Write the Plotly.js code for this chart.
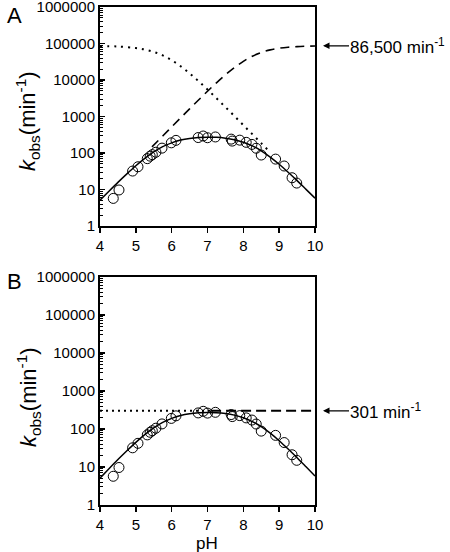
<!DOCTYPE html>
<html>
<head>
<meta charset="utf-8">
<script src="https://cdn.plot.ly/plotly-3.0.1.min.js"></script>
<style>html,body{margin:0;padding:0;background:#fff;}#chart{width:450px;height:552px;}</style>
</head>
<body>
<div id="chart"></div>
<script>
// Measured data (pH, kobs in min^-1)
var dataPH = [4.37,4.53,4.91,5.06,5.32,5.40,5.46,5.56,5.73,5.99,6.12,6.74,6.88,7.00,7.22,7.66,7.69,7.90,8.08,8.24,8.36,8.50,8.90,9.14,9.36,9.49];
var dataK  = [5.7,9.7,32,42,70,82,90,105,136,190,222,265,292,262,275,240,212,225,196,172,135,88,68,44,21,15];

// Fitted bell curve
var fitPH = [4,4.25,4.5,4.75,5,5.25,5.5,5.75,6,6.25,6.5,6.75,7,7.25,7.5,7.75,8,8.25,8.5,8.75,9,9.25,9.5,9.75,10];
var fitK  = [5.1,9.0,15.7,26.8,44.6,71,107,149,190,226,251,266,271,268,255,232,198,157,115,77.5,49.1,29.7,17.5,10.1,5.8];

// Panel A limbs
var dashPH = [5.45,5.75,6,6.25,6.5,6.75,7,7.25,7.5,7.75,8,8.25,8.5,8.75,9,9.25,9.5,9.75,10];
var dashK  = [147,292,518,917,1617,2835,4915,8371,13844,21893,32519,44749,56721,66795,74185,79118,82185,84021,85088];
var dotPH  = [4,4.5,5,5.25,5.5,5.75,6,6.25,6.5,6.75,7,7.25,7.5,7.75,8,8.25,8.5,8.7];
var dotK   = [85239,82633,75348,68487,58924,47216,34893,23829,15237,9283,5478,3168,1811,1028,581,328,185,117];

// Panel B plateau lines
var kmaxA = 86500;
var kmaxB = 301;
var plateauDotPH = [4, 7.1];
var plateauDashPH = [7.1, 10];

var yTickVals = [1,10,100,1000,10000,100000,1000000];
var yTickText = ['1','10','100','1000','10000','100000','1000000'];
var xTickVals = [4,5,6,7,8,9,10];

var FONT = 'Liberation Sans, Arial, sans-serif';
var solidLine = {color:'black', width:1.5, shape:'spline'};
var dashLine = {color:'black', width:1.6, dash:'9px,6px', shape:'spline'};
var dotLine = {color:'black', width:2, dash:'2px,5px', shape:'spline'};
var marker = {symbol:'circle-open', size:10, color:'black', line:{width:1, color:'black'}};

var traces = [
  {x:dotPH, y:dotK, mode:'lines', line:dotLine, xaxis:'x', yaxis:'y'},
  {x:dashPH, y:dashK, mode:'lines', line:dashLine, xaxis:'x', yaxis:'y'},
  {x:fitPH, y:fitK, mode:'lines', line:solidLine, xaxis:'x', yaxis:'y'},
  {x:dataPH, y:dataK, mode:'markers', marker:marker, xaxis:'x', yaxis:'y'},
  {x:plateauDotPH, y:[kmaxB,kmaxB], mode:'lines', line:{color:'black', width:2, dash:'2px,4px'}, xaxis:'x2', yaxis:'y2'},
  {x:plateauDashPH, y:[kmaxB,kmaxB], mode:'lines', line:{color:'black', width:2, dash:'10px,5px'}, xaxis:'x2', yaxis:'y2'},
  {x:fitPH, y:fitK, mode:'lines', line:solidLine, xaxis:'x2', yaxis:'y2'},
  {x:dataPH, y:dataK, mode:'markers', marker:marker, xaxis:'x2', yaxis:'y2'}
];

function xAxis(anchor){
  return {domain:[100/450, 315/450], range:[4,10], anchor:anchor,
    tickmode:'array', tickvals:xTickVals, ticks:'outside', ticklen:5, tickwidth:1.5, tickcolor:'black',
    showline:true, linecolor:'black', linewidth:2, mirror:true, showgrid:false, zeroline:false,
    ticklabeloverflow:'allow',
    tickfont:{family:FONT, size:15, color:'black'}, automargin:false, fixedrange:true};
}
function yAxis(anchor, dom){
  return {domain:dom, type:'log', range:[0,6], anchor:anchor,
    tickmode:'array', tickvals:yTickVals, ticktext:yTickText, ticks:'inside', ticklen:5, tickwidth:1.5, tickcolor:'black',
    minor:{ticks:'inside', ticklen:3, tickwidth:1, tickcolor:'black', dtick:'D1', showgrid:false},
    showline:true, linecolor:'black', linewidth:2, mirror:true, showgrid:false, zeroline:false,
    ticklabeloverflow:'allow',
    tickfont:{family:FONT, size:15, color:'black'}, automargin:false, fixedrange:true};
}

var ytitle = '<i>k</i><sub>obs</sub>(min<sup>-1</sup>)';
var layout = {
  width:450, height:552, margin:{l:0,r:0,t:0,b:0},
  paper_bgcolor:'white', plot_bgcolor:'white', showlegend:false,
  font:{family:FONT, color:'black'},
  xaxis: xAxis('y'),
  yaxis: yAxis('x', [1-226/552, 1-7/552]),
  xaxis2: xAxis('y2'),
  yaxis2: yAxis('x2', [1-505/552, 1-277/552]),
  annotations:[
    {text:'A', xref:'paper', yref:'paper', x:14/450, y:1-15/552, showarrow:false, font:{size:22, family:FONT}, xanchor:'center', yanchor:'middle'},
    {text:'B', xref:'paper', yref:'paper', x:14/450, y:1-281/552, showarrow:false, font:{size:22, family:FONT}, xanchor:'center', yanchor:'middle'},
    {text:ytitle, xref:'paper', yref:'paper', x:28/450, y:1-121/552, textangle:-90, showarrow:false, font:{size:22, family:FONT}, xanchor:'center', yanchor:'middle'},
    {text:ytitle, xref:'paper', yref:'paper', x:28/450, y:1-397/552, textangle:-90, showarrow:false, font:{size:22, family:FONT}, xanchor:'center', yanchor:'middle'},
    {text:'pH', xref:'paper', yref:'paper', x:207/450, y:1-543/552, showarrow:false, font:{size:17, family:FONT}, xanchor:'center', yanchor:'middle'},
    {text:'86,500 min<sup>-1</sup>', xref:'paper', yref:'y', x:323/450, y:Math.log10(kmaxA), showarrow:true, ax:26, ay:0, arrowhead:2, arrowsize:1, arrowwidth:1.3, arrowcolor:'black', xanchor:'left', yanchor:'middle', font:{size:17, family:FONT}, borderpad:0},
    {text:'301 min<sup>-1</sup>', xref:'paper', yref:'y2', x:323/450, y:Math.log10(kmaxB), showarrow:true, ax:26, ay:0, arrowhead:2, arrowsize:1, arrowwidth:1.3, arrowcolor:'black', xanchor:'left', yanchor:'middle', font:{size:17, family:FONT}, borderpad:0}
  ]
};

Plotly.newPlot('chart', traces, layout, {staticPlot:true, displayModeBar:false});
</script>
</body>
</html>
